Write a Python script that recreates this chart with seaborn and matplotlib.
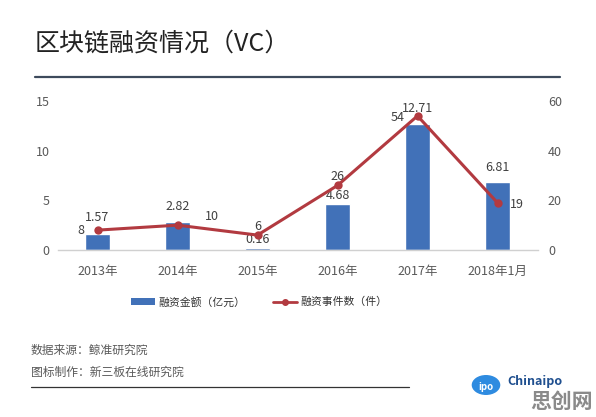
import matplotlib
matplotlib.use("Agg")
import matplotlib.pyplot as plt
import seaborn as sns
import pandas as pd
from matplotlib.patches import Patch, Circle
from matplotlib.lines import Line2D

categories = ["2013年", "2014年", "2015年", "2016年", "2017年", "2018年1月"]
amounts = [1.57, 2.82, 0.16, 4.68, 12.71, 6.81]
events = [8, 10, 6, 26, 54, 19]
left_ticks = [0, 5, 10, 15]
right_ticks = [0, 20, 40, 60]

sns.set_theme(style="white")
plt.rcParams["font.family"] = ["Noto Sans CJK SC", "DejaVu Sans"]

BAR = "#4171b8"
LINE = "#b23a40"
TXT = "#404040"
TICK = "#595959"

W, H = 596, 417
fig = plt.figure(figsize=(W / 100, H / 100), dpi=100)
fig.patch.set_facecolor("white")

def fx(x):
    return x / W

def fy(y):
    return 1 - y / H

ax = fig.add_axes([fx(57.5), fy(250), fx(537.5) - fx(57.5), fy(101) - fy(250)])
df = pd.DataFrame({"cat": categories, "amount": amounts, "events": events})

sns.barplot(data=df, x="cat", y="amount", color=BAR, width=0.31, ax=ax,
            saturation=1)
ax.set_ylim(0, 15)
ax.set_xlim(-0.5, len(categories) - 0.5)
ax.set_yticks(left_ticks)
ax.set_xlabel("")
ax.set_ylabel("")
for s in ["top", "right", "left"]:
    ax.spines[s].set_visible(False)
ax.spines["bottom"].set_color("#d0d0d0")
ax.spines["bottom"].set_linewidth(1)
ax.tick_params(axis="y", length=0, pad=5.5, labelsize=9, labelcolor=TICK)
ax.tick_params(axis="x", length=0, pad=11, labelsize=9, labelcolor=TICK)
ax.patch.set_alpha(0)

ax2 = ax.twinx()
sns.lineplot(data=df, x="cat", y="events", color=LINE, linewidth=2.2,
             marker="o", markersize=6, markeredgewidth=0, sort=False, ax=ax2)
ax2.set_ylim(0, 60)
ax2.set_yticks(right_ticks)
ax2.set_ylabel("")
ax2.set_xlabel("")
for s in ["top", "right", "left", "bottom"]:
    ax2.spines[s].set_visible(False)
ax2.tick_params(axis="y", length=0, pad=7.5, labelsize=9, labelcolor=TICK)

# bar labels (offsets in points)
bar_offs = [12.5, 11.5, 6.5, 6, 11, 11]
for i, (v, dy) in enumerate(zip(amounts, bar_offs)):
    ax.annotate(f"{v:.2f}", (i, v), xytext=(0, dy), textcoords="offset points",
                ha="center", va="center", fontsize=9, color=TXT)

# line labels (offsets in points)
offs = [(-12, 0), (25, 6), (0, 6.5), (0, 6.5), (-14, -1.5), (14, -1)]
for i, (v, (dx, dy)) in enumerate(zip(events, offs)):
    ax2.annotate(str(v), (i, v), xytext=(dx, dy), textcoords="offset points",
                 ha="center", va="center", fontsize=9, color=TXT)

# title
fig.text(fx(35), fy(44), "区块链融资情况（VC）", fontsize=18, color="#222222",
         ha="left", va="center")
fig.add_artist(Line2D([fx(35), fx(560)], [fy(76.5), fy(76.5)],
                      color="#3d4a5c", linewidth=1.6))

# legend
handles = [Patch(facecolor=BAR, edgecolor="none", label="融资金额（亿元）"),
           Line2D([0], [0], color=LINE, linewidth=2, marker="o", markersize=4,
                  label="融资事件数（件）")]
fig.legend(handles=handles, loc="center", bbox_to_anchor=(fx(259), fy(302)),
           ncol=2, frameon=False, fontsize=7.8, handlelength=2.2,
           handleheight=0.6, handletextpad=0.3, columnspacing=2.6,
           labelcolor="#333333")

# footer
fig.text(fx(31), fy(350), "数据来源：鲸准研究院", fontsize=8.5, color=TICK,
         ha="left", va="center")
fig.text(fx(31), fy(372), "图标制作：新三板在线研究院", fontsize=8.5, color=TICK,
         ha="left", va="center")
fig.add_artist(Line2D([fx(31), fx(409)], [fy(387), fy(387)],
                      color="#333333", linewidth=0.9))

# logo
circ = Circle((fx(486), fy(385)), 10 / H, transform=fig.transFigure,
              facecolor="#2e8be0", edgecolor="none")
fig.add_artist(circ)
fig.text(fx(486), fy(387), "ipo", fontsize=7, color="white", ha="center",
         va="center", fontweight="bold")
fig.text(fx(507), fy(381), "Chinaipo", fontsize=9, color="#1f4f8f",
         ha="left", va="center", fontweight="bold")
fig.text(fx(562), fy(401), "思创网", fontsize=15, color="#8a8a8a",
         ha="center", va="center", fontweight="bold")

fig.savefig("out.png", dpi=100, facecolor="white")
